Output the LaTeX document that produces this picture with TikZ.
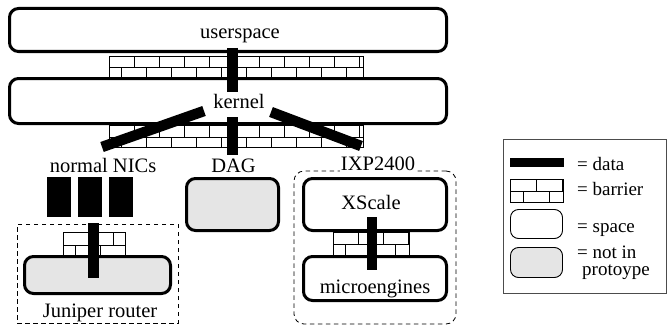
\documentclass[tikz,border=0pt]{standalone}
\usepackage{fontspec}
\setmainfont{Liberation Serif}
\newfontfamily\tnr{Liberation Serif}
\newcommand\mywall[6]{% x0 y0 x1 y1 ymid brickwidth
  \begin{scope}
    \clip (#1,#2) rectangle (#3,#4);
    \draw[wall] (#1,#5) -- (#3,#5);
    \foreach \k in {0,...,12} {
      \draw[wall] ({#1+\k*#6},#2) -- ({#1+\k*#6},#5);
      \draw[wall] ({#1+(\k+0.5)*#6},#5) -- ({#1+(\k+0.5)*#6},#4);
    }
  \end{scope}
  \draw[wall] (#1,#2) rectangle (#3,#4);
}
\begin{document}
\begin{tikzpicture}[x=1pt,y=-1pt,
  space/.style={draw, fill=white, line width=3pt, rounded corners=9pt, inner sep=0pt},
  lspace/.style={draw, line width=0.9pt, rounded corners=8pt, inner sep=0pt},
  greyfill/.style={fill=black!10},
  lbl/.style={anchor=base, inner sep=0pt, font=\tnr\fontsize{20.5}{22}\selectfont},
  leg/.style={anchor=base west, inner sep=0pt, font=\tnr\fontsize{19}{17}\selectfont},
  databar/.style={line width=10.5pt},
  datablk/.style={fill=black, inner sep=0pt},
  wall/.style={line width=0.9pt},
  dashbox/.style={draw, line width=0.8pt, dash pattern=on 4.5pt off 3.5pt, inner sep=0pt},
]
\useasboundingbox (0,0) rectangle (668,329);

% barriers
\mywall{109}{56}{363}{77}{67}{25}
\mywall{109}{125}{363}{147}{137}{25}
\mywall{63}{232}{125}{255}{245}{25}
\mywall{333}{232}{409}{255}{244}{25}

% main spaces
\node[space, minimum width=437pt, minimum height=43pt] (user) at (228,30) {};
\node[space, minimum width=437pt, minimum height=45pt] (kern) at (228,101) {};
\node[lbl] (usertxt) at (240,38) {userspace};
\node[lbl] (kerntxt) at (239,108) {kernel};

% labels of devices
\node[lbl] (nics) at (103,172) {normal NICs};
\node[lbl] (dagtxt) at (233.5,172) {DAG};

% normal NICs data blocks
\node[datablk, minimum width=24pt, minimum height=40pt] (nic1) at (59,197) {};
\node[datablk, minimum width=24pt, minimum height=40pt] (nic2) at (90,197) {};
\node[datablk, minimum width=24pt, minimum height=40pt] (nic3) at (121,197) {};

% Juniper
\node[dashbox, minimum width=161pt, minimum height=99pt] (jgrp) at (97.5,273.5) {};
\node[space, greyfill, minimum width=146pt, minimum height=37pt] (jun) at (97.5,275) {};
\node[lbl] (juntxt) at (100,317) {Juniper router};

% DAG
\node[space, greyfill, minimum width=92pt, minimum height=52pt] (dag) at (232.5,204.5) {};

% IXP2400
\node[dashbox, rounded corners=10pt, minimum width=162pt, minimum height=153pt] (ixp) at (375,247.5) {};
\node[lbl, fill=white, inner xsep=1pt, inner ysep=2pt] (ixptxt) at (378,170) {IXP2400};
\node[space, minimum width=143pt, minimum height=52pt] (xs) at (375,204.5) {};
\node[space, minimum width=143pt, minimum height=44pt] (me) at (375,278.5) {};
\node[lbl] (xstxt) at (371,209) {XScale};
\node[lbl] (metxt) at (375,293) {microengines};

% data paths
\coordinate (d1a) at (232.5,48);  \coordinate (d1b) at (232.5,92);
\coordinate (d2a) at (232.5,117); \coordinate (d2b) at (232.5,155);
\coordinate (d3a) at (204,111);   \coordinate (d3b) at (102,147);
\coordinate (d4a) at (271,112);   \coordinate (d4b) at (361,146);
\coordinate (d5a) at (93.5,223);  \coordinate (d5b) at (93.5,278);
\coordinate (d6a) at (372,217);   \coordinate (d6b) at (372,270);
\draw[databar] (d1a) -- (d1b);
\draw[databar] (d2a) -- (d2b);
\draw[databar] (d3a) -- (d3b);
\draw[databar] (d4a) -- (d4b);
\draw[databar] (d5a) -- (d5b);
\draw[databar] (d6a) -- (d6b);

% legend
\node[draw=black!70, line width=0.9pt, minimum width=163pt, minimum height=154pt, inner sep=0pt] (legend) at (584.5,216) {};
\node[datablk, minimum width=54pt, minimum height=9pt] (ldata) at (537,162.5) {};
\mywall{510}{179}{563}{202}{191}{26}
\node[lspace, minimum width=52pt, minimum height=29pt] (lspc) at (536.5,224) {};
\node[lspace, greyfill, minimum width=52pt, minimum height=30pt] (lgrey) at (536.5,262.5) {};
\node[leg] (t1) at (577,170) {= data};
\node[leg] (t2) at (577,195) {= barrier};
\node[leg] (t3) at (577,232) {= space};
\node[leg, align=left] (t4) at (577,275) {= not in\\\hspace*{5pt}protoype};
\end{tikzpicture}
\end{document}
